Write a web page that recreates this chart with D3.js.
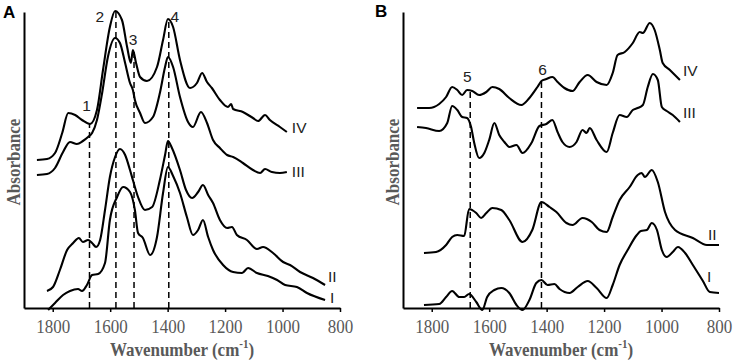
<!DOCTYPE html>
<html>
<head>
<meta charset="utf-8">
<title>FTIR spectra</title>
<style>
  body { margin: 0; background: #fff; }
  .tick text { font-family: "Liberation Serif", "Times New Roman", serif; font-size: 17px; fill: #595959; }
  .axis path, .axis line { stroke: #000; }
  .axis path { stroke-width: 2; }
  .axis-title { font-family: "Liberation Serif", "Times New Roman", serif; font-weight: bold; font-size: 17px; fill: #595959; }
  .spec { fill: none; stroke: #000; stroke-width: 2.1; stroke-linejoin: round; }
  .mark { stroke: #000; stroke-width: 1.5; stroke-dasharray: 6,4; }
  .lbl { font-family: "Liberation Sans", Arial, sans-serif; font-size: 15.5px; fill: #222; }
  .panel { font-family: "Liberation Sans", Arial, sans-serif; font-weight: bold; font-size: 17px; }
</style>
</head>
<body>
<svg width="733" height="360"></svg>
<script src="https://cdn.jsdelivr.net/npm/d3@7"></script>
<script>
// [wavenumber (cm-1), absorbance (a.u., offset per spectrum)]
var specA_IV = [[1855,1.48],[1820,1.49],[1792,1.55],[1767,1.75],[1746,1.95],[1722,1.93],[1698,1.88],[1670,1.84],[1646,1.98],[1625,2.38],[1601,2.81],[1583,2.97],[1559,2.88],[1541,2.61],[1528,2.45],[1521,2.58],[1510,2.45],[1496,2.31],[1472,2.27],[1437,2.41],[1416,2.68],[1399,2.89],[1381,2.81],[1357,2.48],[1322,2.20],[1298,2.25],[1280,2.35],[1263,2.26],[1246,2.20],[1218,2.08],[1190,2.01],[1179,2.04],[1172,1.99],[1138,1.96],[1103,1.90],[1085,1.87],[1061,1.93],[1044,1.88],[1009,1.81],[985,1.76]];
var specA_III = [[1855,1.33],[1820,1.34],[1792,1.40],[1764,1.56],[1740,1.66],[1716,1.64],[1695,1.67],[1677,1.71],[1663,1.75],[1646,1.88],[1628,2.15],[1608,2.51],[1583,2.70],[1566,2.65],[1548,2.45],[1531,2.25],[1521,2.18],[1514,2.08],[1496,1.95],[1479,1.85],[1451,1.91],[1427,2.15],[1409,2.41],[1399,2.51],[1381,2.41],[1357,2.11],[1329,1.86],[1312,1.81],[1284,1.96],[1263,1.85],[1242,1.68],[1218,1.60],[1193,1.53],[1172,1.51],[1138,1.45],[1103,1.38],[1078,1.35],[1061,1.39],[1037,1.36],[1009,1.35],[985,1.36]];
var specA_II = [[1820,0.17],[1799,0.21],[1775,0.38],[1750,0.58],[1729,0.65],[1709,0.70],[1695,0.66],[1677,0.68],[1663,0.65],[1649,0.61],[1635,0.68],[1618,0.98],[1601,1.31],[1583,1.51],[1566,1.59],[1548,1.53],[1531,1.38],[1521,1.28],[1503,1.11],[1479,0.98],[1454,1.01],[1427,1.28],[1409,1.53],[1399,1.67],[1385,1.60],[1357,1.38],[1336,1.18],[1315,1.10],[1294,1.16],[1277,1.23],[1259,1.13],[1242,1.05],[1218,0.88],[1193,0.80],[1176,0.81],[1159,0.73],[1124,0.68],[1089,0.59],[1068,0.61],[1033,0.55],[998,0.46],[974,0.43],[939,0.36],[894,0.30],[852,0.23]];
var specA_I = [[1816,-0.02],[1792,0.05],[1764,0.13],[1740,0.17],[1712,0.19],[1698,0.17],[1681,0.23],[1663,0.33],[1642,0.34],[1618,0.45],[1601,0.88],[1576,1.11],[1555,1.21],[1531,1.16],[1514,0.98],[1503,0.75],[1486,0.70],[1461,0.53],[1437,0.71],[1416,1.15],[1399,1.41],[1381,1.32],[1357,1.15],[1333,0.91],[1312,0.73],[1294,0.78],[1277,0.88],[1259,0.71],[1242,0.58],[1207,0.43],[1172,0.36],[1141,0.35],[1120,0.40],[1089,0.35],[1051,0.32],[1019,0.28],[991,0.23],[950,0.21],[915,0.15],[852,0.08]];

var specB_IV = [[1851,2.00],[1809,2.00],[1774,2.04],[1750,2.11],[1729,2.21],[1711,2.18],[1694,2.13],[1677,2.18],[1659,2.17],[1635,2.13],[1610,2.16],[1589,2.21],[1565,2.19],[1530,2.10],[1488,2.03],[1460,2.10],[1432,2.21],[1418,2.27],[1401,2.29],[1380,2.31],[1362,2.26],[1338,2.20],[1310,2.17],[1285,2.26],[1257,2.33],[1226,2.26],[1191,2.23],[1170,2.35],[1153,2.53],[1128,2.56],[1100,2.65],[1076,2.76],[1065,2.75],[1041,2.85],[1024,2.78],[1006,2.58],[996,2.45],[971,2.38],[936,2.28]];
var specB_III = [[1851,1.81],[1820,1.80],[1774,1.77],[1746,1.85],[1729,2.02],[1711,1.98],[1694,1.91],[1677,1.90],[1663,1.81],[1652,1.65],[1635,1.50],[1617,1.55],[1600,1.68],[1582,1.85],[1565,1.73],[1547,1.66],[1530,1.61],[1505,1.63],[1484,1.55],[1453,1.65],[1425,1.82],[1401,1.84],[1380,1.88],[1362,1.76],[1345,1.66],[1320,1.61],[1296,1.66],[1275,1.78],[1261,1.75],[1250,1.80],[1226,1.68],[1191,1.56],[1170,1.75],[1146,1.93],[1121,1.91],[1100,1.98],[1083,2.00],[1065,2.03],[1048,2.21],[1030,2.34],[1013,2.28],[999,2.01],[982,1.97],[961,1.93],[936,1.86]];
var specB_II = [[1827,0.55],[1785,0.56],[1750,0.63],[1729,0.71],[1711,0.73],[1687,0.72],[1670,0.99],[1645,0.95],[1628,0.90],[1610,0.95],[1589,1.00],[1558,0.98],[1530,0.88],[1484,0.66],[1450,0.78],[1418,1.06],[1390,1.01],[1366,0.96],[1331,0.85],[1310,0.83],[1275,0.90],[1243,0.86],[1216,0.78],[1191,0.76],[1170,0.91],[1146,1.08],[1111,1.21],[1083,1.33],[1069,1.35],[1058,1.31],[1034,1.38],[1013,1.26],[988,0.96],[953,0.78],[891,0.70],[842,0.63],[800,0.63]];
var specB_I = [[1827,0.03],[1774,0.04],[1750,0.11],[1729,0.17],[1704,0.11],[1687,0.11],[1670,0.14],[1645,0.06],[1624,-0.02],[1607,0.11],[1582,0.18],[1558,0.20],[1530,0.15],[1505,0.03],[1484,-0.02],[1460,0.08],[1436,0.25],[1418,0.28],[1397,0.23],[1373,0.24],[1355,0.19],[1320,0.15],[1292,0.21],[1257,0.27],[1226,0.20],[1191,0.10],[1170,0.23],[1146,0.43],[1118,0.58],[1086,0.73],[1072,0.77],[1051,0.78],[1034,0.85],[1016,0.78],[999,0.58],[982,0.51],[961,0.56],[943,0.61],[918,0.55],[891,0.43],[856,0.27],[832,0.16],[800,0.15]];

// marker bands: wavenumber, height of the dashed line, label
var bandsA = [[1672, 1.85, "1"], [1580, 2.96, "2"], [1517, 2.58, "3"], [1396, 2.88, "4"]];
var bandsB = [[1666, 2.17, "5"], [1418, 2.26, "6"]];

var xTicks = [1800, 1600, 1400, 1200, 1000, 800];

var svg = d3.select("svg");
var plotTop = 12, plotBottom = 308;
var stretch = 1.15; // the serif axis text is drawn a little tall

var panels = [
  { name: "A", x0: 24, x1: 340, lx: 3, ly: 18,
    spectra: [
      { id: "IV", d: specA_IV, dx: 5, dy: 1 },
      { id: "III", d: specA_III, dx: 5, dy: 5 },
      { id: "II", d: specA_II, dx: 3, dy: -3 },
      { id: "I", d: specA_I, dx: 5, dy: 3 }
    ],
    bands: bandsA, bandOff: [[-3, -12], [-16, 10], [-1, -5], [6, 2]] },
  { name: "B", x0: 403, x1: 719, lx: 375, ly: 17,
    spectra: [
      { id: "IV", d: specB_IV, dx: 3, dy: -4 },
      { id: "III", d: specB_III, dx: 3, dy: -4 },
      { id: "II", d: specB_II, dx: -11, dy: -5 },
      { id: "I", d: specB_I, dx: -12, dy: -11 }
    ],
    bands: bandsB, bandOff: [[-3, -9], [1, -7]] }
];

panels.forEach(function(p) {
  var x = d3.scaleLinear().domain([1900, 800]).range([p.x0, p.x1]);
  var y = d3.scaleLinear().domain([0, 2.96]).range([plotBottom, plotTop]);
  var g = svg.append("g");

  var line = d3.line()
    .x(function(d) { return x(d[0]); })
    .y(function(d) { return y(d[1]); })
    .curve(d3.curveMonotoneX);

  // dashed band markers
  p.bands.forEach(function(b, i) {
    g.append("line").attr("class", "mark")
      .attr("x1", x(b[0])).attr("x2", x(b[0]))
      .attr("y1", y(0)).attr("y2", y(b[1]));
    g.append("text").attr("class", "lbl")
      .attr("text-anchor", "middle")
      .attr("x", x(b[0]) + p.bandOff[i][0])
      .attr("y", y(b[1]) + p.bandOff[i][1])
      .text(b[2]);
  });

  p.spectra.forEach(function(s) {
    g.append("path").attr("class", "spec").attr("d", line(s.d));
    var last = s.d[s.d.length - 1];
    g.append("text").attr("class", "lbl")
      .attr("x", x(last[0]) + s.dx)
      .attr("y", y(last[1]) + s.dy)
      .text(s.id);
  });

  var xa = g.append("g").attr("class", "axis")
    .attr("transform", "translate(0," + plotBottom + ")")
    .call(d3.axisBottom(x).tickValues(xTicks).tickFormat(d3.format("d"))
      .tickSize(4).tickSizeOuter(0));
  xa.selectAll(".tick line").attr("stroke-width", 1.5);
  xa.selectAll(".tick text")
    .attr("dy", null)
    .attr("y", 25.5 / stretch)
    .attr("transform", "scale(1," + stretch + ")");

  g.append("g").attr("class", "axis")
    .attr("transform", "translate(" + p.x0 + ",0)")
    .call(d3.axisLeft(y).tickValues([]).tickSizeOuter(0));

  var t = g.append("text").attr("class", "axis-title")
    .attr("text-anchor", "middle")
    .attr("transform", "translate(" + ((p.x0 + p.x1) / 2) + ",355.5) scale(1," + stretch + ")");
  t.append("tspan").text("Wavenumber (cm");
  t.append("tspan").attr("baseline-shift", "super").attr("font-size", "11px").text("-1");
  t.append("tspan").text(")");

  g.append("text").attr("class", "axis-title")
    .attr("text-anchor", "middle")
    .attr("transform", "translate(" + (p.x0 - 4) + "," + ((plotTop + plotBottom) / 2 + 2) + ") rotate(-90) scale(1," + stretch + ")")
    .text("Absorbance");

  g.append("text").attr("class", "panel")
    .attr("x", p.lx).attr("y", p.ly).text(p.name);
});
</script>
</body>
</html>
